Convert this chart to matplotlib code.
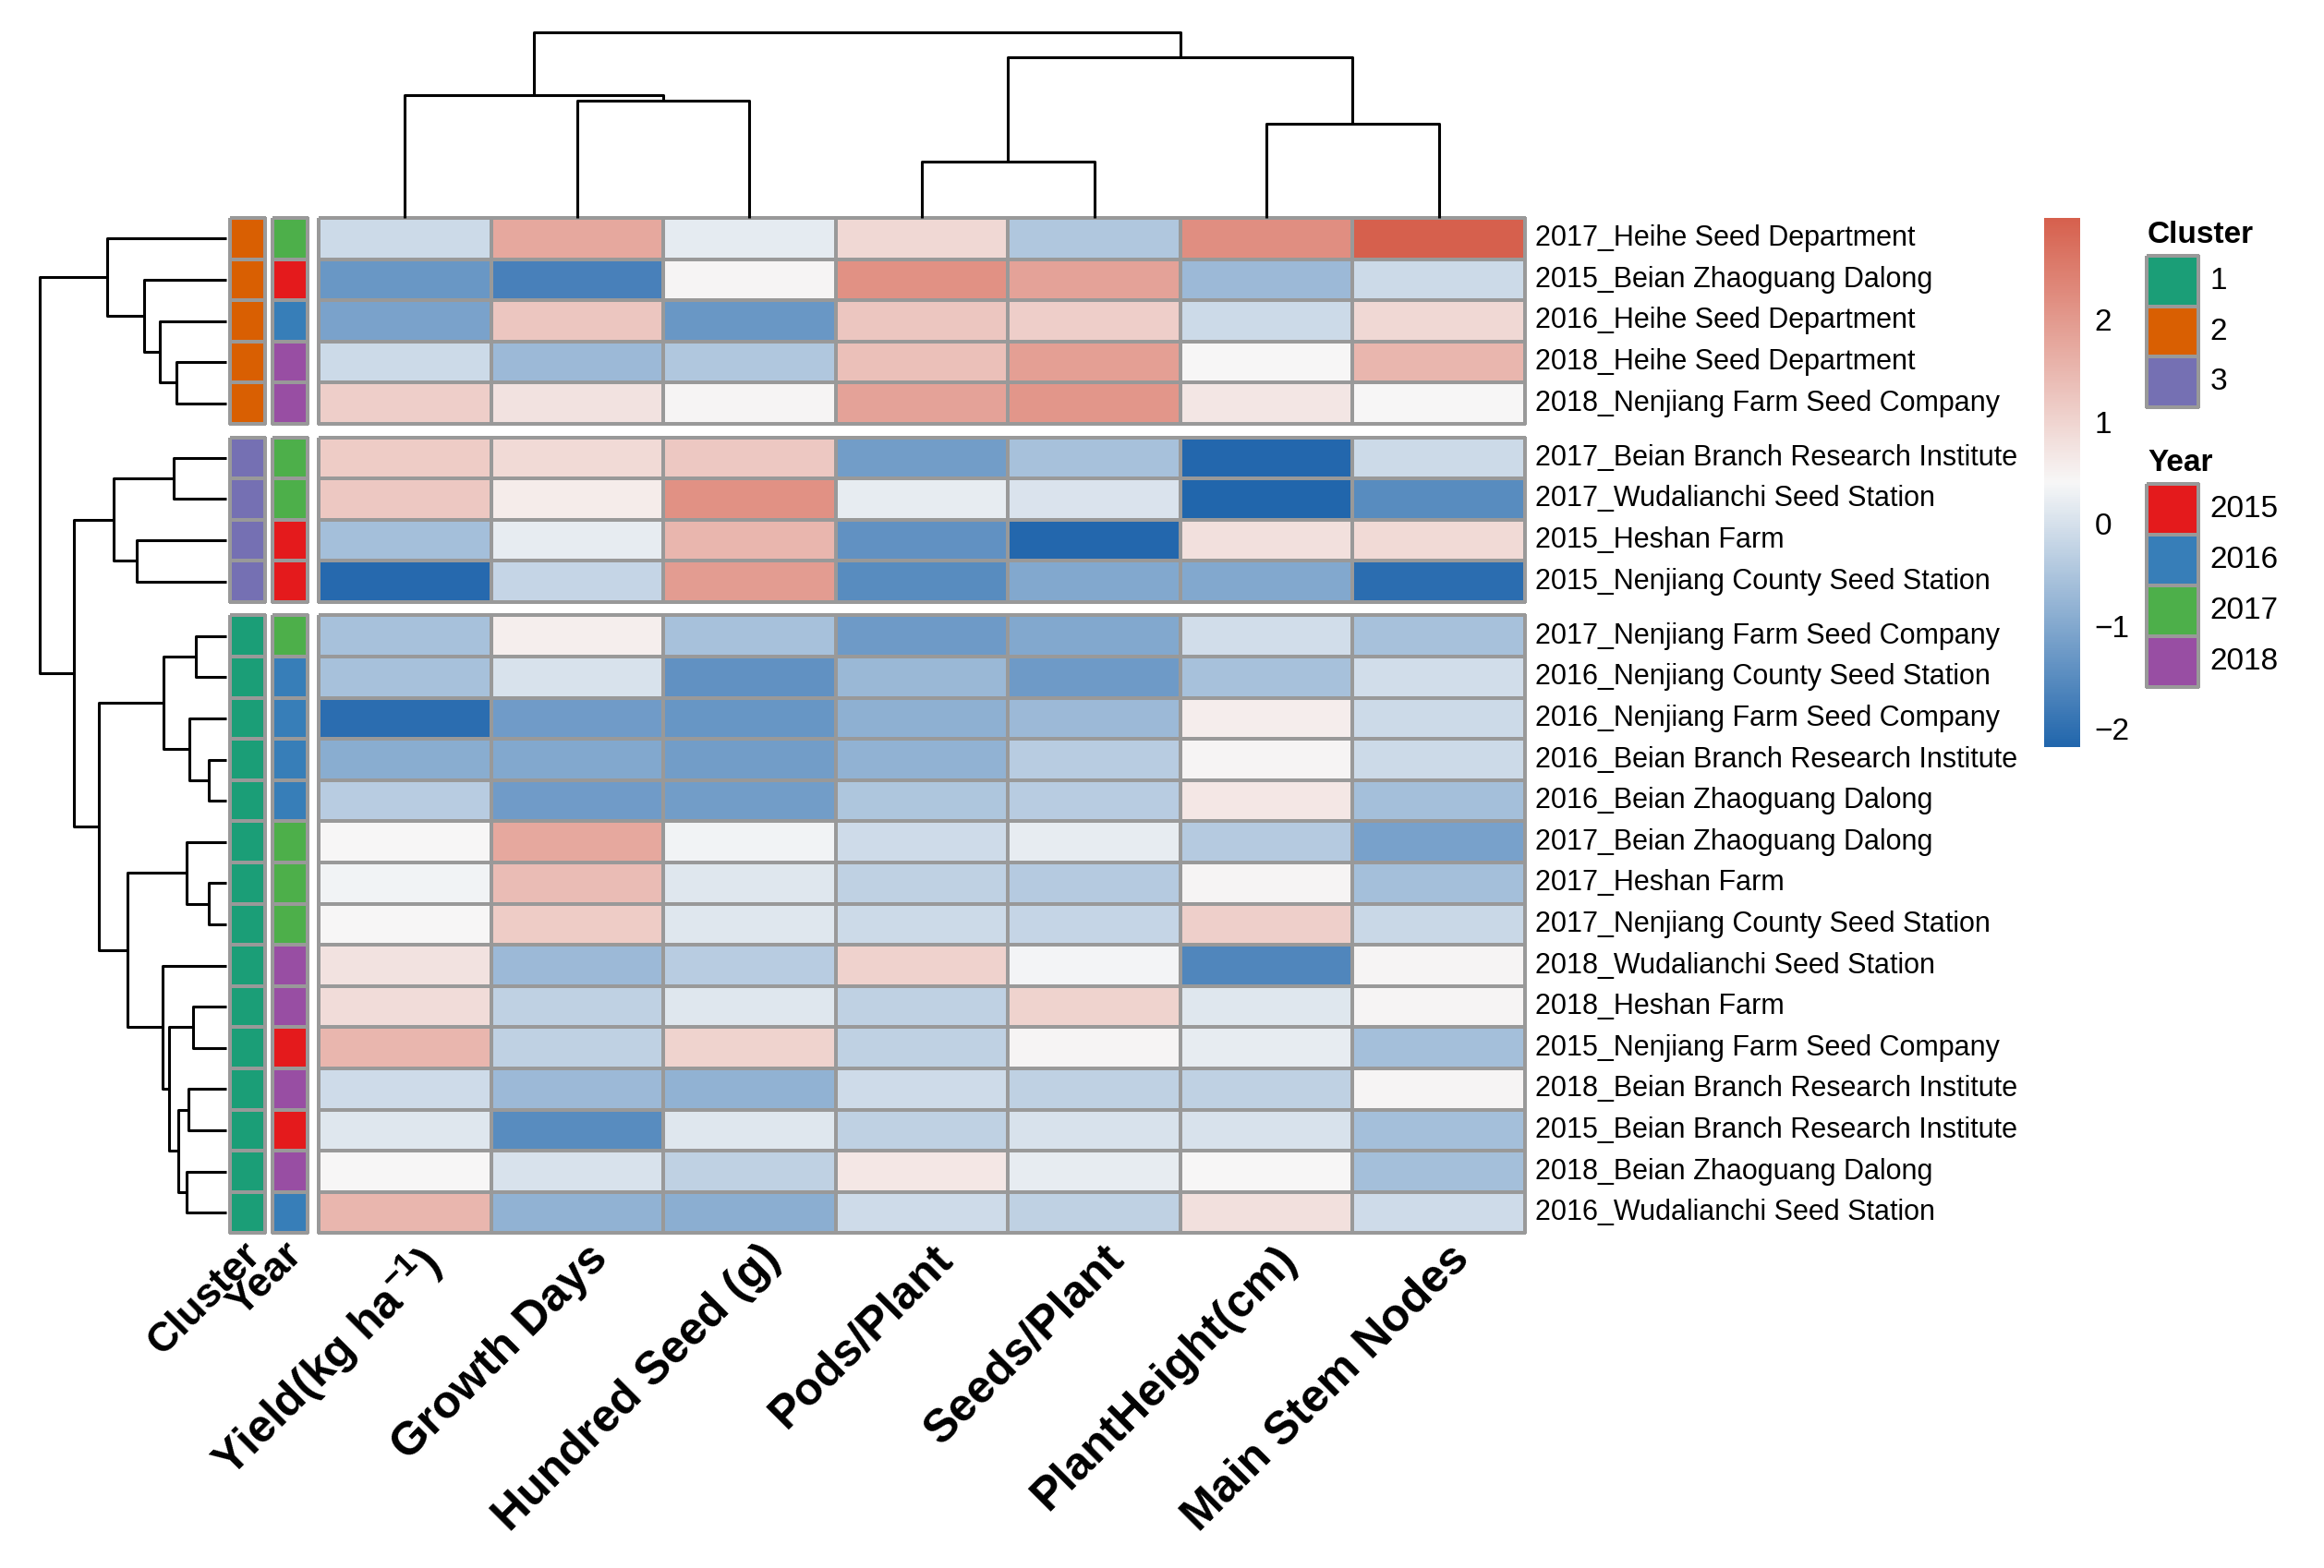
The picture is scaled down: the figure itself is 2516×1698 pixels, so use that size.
import numpy as np
import matplotlib
matplotlib.use('Agg')
import matplotlib.pyplot as plt
from matplotlib.colors import LinearSegmentedColormap, ListedColormap, Normalize
from matplotlib.cm import ScalarMappable

plt.rcParams['font.family'] = ['Liberation Sans', 'DejaVu Sans']
plt.rcParams['mathtext.fontset'] = 'custom'
plt.rcParams['mathtext.rm'] = 'Liberation Sans'
plt.rcParams['mathtext.bf'] = 'Liberation Sans:bold'

# ---- data ----
traits = ['Yield(kg ha$^{\\mathbf{-1}}$)', 'Growth Days', 'Hundred Seed (g)',
          'Pods/Plant', 'Seeds/Plant', 'PlantHeight(cm)', 'Main Stem Nodes']

row_labels = [
    '2017_Heihe Seed Department', '2015_Beian Zhaoguang Dalong',
    '2016_Heihe Seed Department', '2018_Heihe Seed Department',
    '2018_Nenjiang Farm Seed Company',
    '2017_Beian Branch Research Institute', '2017_Wudalianchi Seed Station',
    '2015_Heshan Farm', '2015_Nenjiang County Seed Station',
    '2017_Nenjiang Farm Seed Company', '2016_Nenjiang County Seed Station',
    '2016_Nenjiang Farm Seed Company', '2016_Beian Branch Research Institute',
    '2016_Beian Zhaoguang Dalong', '2017_Beian Zhaoguang Dalong',
    '2017_Heshan Farm', '2017_Nenjiang County Seed Station',
    '2018_Wudalianchi Seed Station', '2018_Heshan Farm',
    '2015_Nenjiang Farm Seed Company', '2018_Beian Branch Research Institute',
    '2015_Beian Branch Research Institute', '2018_Beian Zhaoguang Dalong',
    '2016_Wudalianchi Seed Station']

row_cluster = [2, 2, 2, 2, 2, 3, 3, 3, 3] + [1] * 15
row_year = [int(s[:4]) for s in row_labels]

values = np.array([
    [-0.10, 1.75, 0.20, 0.95, -0.45, 2.20, 2.99],
    [-1.30, -1.70, 0.45, 2.15, 1.85, -0.70, -0.10],
    [-1.10, 1.25, -1.30, 1.25, 1.10, -0.10, 0.95],
    [-0.10, -0.70, -0.45, 1.35, 1.90, 0.42, 1.50],
    [1.10, 0.75, 0.45, 1.85, 2.05, 0.70, 0.42],
    [1.15, 0.90, 1.20, -1.20, -0.55, -2.15, -0.10],
    [1.20, 0.60, 2.15, 0.22, 0.05, -2.18, -1.50],
    [-0.60, 0.22, 1.50, -1.40, -2.15, 0.80, 0.90],
    [-2.10, -0.20, 1.95, -1.50, -1.00, -1.00, -2.05],
    [-0.55, 0.55, -0.55, -1.25, -1.00, -0.05, -0.55],
    [-0.55, 0.03, -1.40, -0.72, -1.25, -0.55, -0.05],
    [-2.05, -1.22, -1.33, -0.85, -0.70, 0.58, -0.10],
    [-0.92, -1.00, -1.20, -0.82, -0.35, 0.45, -0.10],
    [-0.35, -1.22, -1.20, -0.48, -0.35, 0.68, -0.60],
    [0.42, 1.75, 0.33, -0.08, 0.22, -0.40, -1.12],
    [0.33, 1.40, 0.12, -0.28, -0.40, 0.45, -0.60],
    [0.42, 1.15, 0.12, -0.10, -0.20, 1.08, -0.15],
    [0.75, -0.70, -0.35, 1.05, 0.35, -1.60, 0.45],
    [0.85, -0.27, 0.12, -0.27, 1.02, 0.12, 0.45],
    [1.50, -0.27, 1.02, -0.27, 0.45, 0.22, -0.60],
    [-0.08, -0.70, -0.82, -0.08, -0.27, -0.27, 0.45],
    [0.12, -1.50, 0.12, -0.27, 0.03, 0.03, -0.60],
    [0.42, 0.03, -0.27, 0.68, 0.22, 0.42, -0.60],
    [1.50, -0.82, -0.90, -0.08, -0.27, 0.80, -0.08],
])

# dendrograms: (merge height, child, child); ints are leaves in display order
row_tree = (202,
            (129, 0, (89, 1, (72, 2, (54, 3, 4)))),
            (165,
             (122, (57, 5, 6), (97, 7, 8)),
             (138,
              (68, (33, 9, 10), (40, 11, (19, 12, 13))),
              (107,
               (43, 14, (19, 15, 16)),
               (69, 17, (62, (36, 18, 19),
                         (52, (41, 20, 21), (43, 22, 23))))))))
col_tree = (201, (133, 0, (127, 1, 2)), (174, (61, 3, 4), (102, 5, 6)))

cluster_names = ['1', '2', '3']
cluster_colors = ['#1B9E77', '#D95F02', '#7570B3']
year_names = ['2015', '2016', '2017', '2018']
year_colors = ['#E41A1C', '#377EB8', '#4DAF4A', '#984EA3']

# ---- layout (pixels) ----
W, H = 2516, 1698
fig = plt.figure(figsize=(W / 200, H / 200), dpi=200)


def px_axes(x0, y0, x1, y1):
    return fig.add_axes([x0 / W, 1 - y1 / H, (x1 - x0) / W, (y1 - y0) / H])


hm_x0, hm_x1 = 345, 1651
top, cell_h, gap = 236, 44.6, 14.5
grey = '#999999'
lw_cell = 0.75

cmap = LinearSegmentedColormap.from_list('bwr_ph', ['#2166AC', '#F7F7F7', '#D6604D'])
norm = Normalize(values.min(), values.max())

# groups from cluster changes
starts = [0] + [i for i in range(1, len(row_cluster)) if row_cluster[i] != row_cluster[i - 1]]
ends = starts[1:] + [len(row_cluster)]

row_centers = []
for g, (s, e) in enumerate(zip(starts, ends)):
    y0 = top + s * cell_h + g * gap
    y1 = y0 + (e - s) * cell_h
    n = e - s
    for i in range(n):
        row_centers.append(y0 + (i + 0.5) * cell_h)

    ax = px_axes(hm_x0, y0, hm_x1, y1)
    m = ax.pcolormesh(values[s:e], cmap=cmap, norm=norm, edgecolors=grey, linewidth=lw_cell)
    m.set_clip_on(False)
    ax.set_xlim(0, 7)
    ax.set_ylim(n, 0)
    ax.axis('off')
    for i, lab in enumerate(row_labels[s:e]):
        ax.text(7.06, i + 0.5, lab, ha='left', va='center', fontsize=11)
    if g == len(starts) - 1:
        for j, t in enumerate(traits):
            ax.text(j + 0.55, n + 0.1, t, rotation=45, ha='right', va='top',
                    rotation_mode='anchor', fontweight='bold', fontsize=18)

    for k, (x0, codes, names, cols, title) in enumerate([
            (249, row_cluster, cluster_names, cluster_colors, 'Cluster'),
            (295, row_year, year_names, year_colors, 'Year')]):
        ax_a = px_axes(x0, y0, x0 + 38, y1)
        idx = np.array([names.index(str(c)) for c in codes[s:e]])[:, None]
        m = ax_a.pcolormesh(idx, cmap=ListedColormap(cols), vmin=-0.5,
                            vmax=len(cols) - 0.5, edgecolors=grey, linewidth=lw_cell)
        m.set_clip_on(False)
        ax_a.set_xlim(0, 1)
        ax_a.set_ylim(n, 0)
        ax_a.axis('off')
        if g == len(starts) - 1:
            ax_a.text(0.3, n + 0.05, title, rotation=45, ha='right', va='top',
                      rotation_mode='anchor', fontweight='bold', fontsize=16)


def draw_tree(ax, node, pos, horizontal):
    if isinstance(node, int):
        return pos[node], 0.0
    h, a, b = node
    pa, ha = draw_tree(ax, a, pos, horizontal)
    pb, hb = draw_tree(ax, b, pos, horizontal)
    if horizontal:
        ax.plot([ha, h, h, hb], [pa, pa, pb, pb], color='black', lw=1.1,
                solid_capstyle='butt', clip_on=False)
    else:
        ax.plot([pa, pa, pb, pb], [ha, h, h, hb], color='black', lw=1.1,
                solid_capstyle='butt', clip_on=False)
    return (pa + pb) / 2, h


bottom = row_centers[-1] + cell_h / 2
ax_rd = px_axes(43, top, 245, bottom)
draw_tree(ax_rd, row_tree, row_centers, True)
ax_rd.set_xlim(row_tree[0], 0)
ax_rd.set_ylim(bottom, top)
ax_rd.axis('off')

ax_cd = px_axes(hm_x0, 35, hm_x1, top)
draw_tree(ax_cd, col_tree, [j + 0.5 for j in range(7)], False)
ax_cd.set_xlim(0, 7)
ax_cd.set_ylim(0, col_tree[0])
ax_cd.axis('off')

# colorbar
cax = px_axes(2213, 236, 2252, 809)
cb = fig.colorbar(ScalarMappable(norm=norm, cmap=cmap), cax=cax)
cb.outline.set_visible(False)
cb.set_ticks([-2, -1, 0, 1, 2])
cax.tick_params(length=0, pad=5.5, labelsize=12)

# legends
for title, names, cols, y0, bh in [('Cluster', cluster_names, cluster_colors, 277, 54.7),
                                   ('Year', year_names, year_colors, 524, 55)]:
    n = len(names)
    ax_l = px_axes(2324, y0, 2380, y0 + n * bh)
    m = ax_l.pcolormesh(np.arange(n)[:, None], cmap=ListedColormap(cols), vmin=-0.5,
                        vmax=n - 0.5, edgecolors=grey, linewidth=lw_cell)
    m.set_clip_on(False)
    ax_l.set_xlim(0, 1)
    ax_l.set_ylim(n, 0)
    ax_l.axis('off')
    for i, lab in enumerate(names):
        ax_l.text(1.22, i + 0.5, lab, ha='left', va='center', fontsize=12)
    ax_l.text(0.02, -0.25, title, ha='left', va='baseline', fontsize=12, fontweight='bold')

fig.savefig('out.png', dpi=200, facecolor='white')
